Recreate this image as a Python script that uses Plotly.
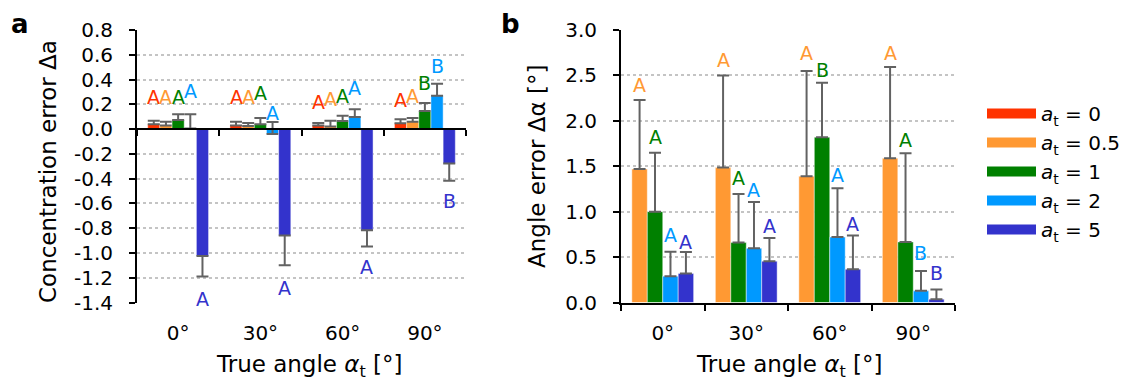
import plotly.graph_objects as go

# ---------------- data ----------------
categories = ["0°", "30°", "60°", "90°"]
series_names = ["0", "0.5", "1", "2", "5"]
series_colors = ["#FF3300", "#FF9933", "#008000", "#0099FF", "#3333CC"]

# panel a: concentration error
conc_a0 = [0.040, 0.030, 0.030, 0.048]
conc_a05 = [0.030, 0.025, 0.020, 0.060]
conc_a1 = [0.073, 0.040, 0.065, 0.146]
conc_a2 = [0.005, -0.040, 0.097, 0.270]
conc_a5 = [-1.025, -0.860, -0.817, -0.278]

conc_err_up_a0 = [0.027, 0.030, 0.020, 0.032]
conc_err_up_a05 = [0.030, 0.025, 0.047, 0.030]
conc_err_up_a1 = [0.047, 0.050, 0.043, 0.064]
conc_err_up_a2 = [0.115, 0.097, 0.063, 0.097]
conc_err_up_a5 = [0.0, 0.0, 0.0, 0.0]
conc_err_down_a0 = [0.0, 0.0, 0.0, 0.0]
conc_err_down_a05 = [0.0, 0.0, 0.0, 0.0]
conc_err_down_a1 = [0.0, 0.0, 0.0, 0.0]
conc_err_down_a2 = [0.0, 0.0, 0.0, 0.0]
conc_err_down_a5 = [0.165, 0.240, 0.130, 0.140]

conc_lbl_a0 = ["A", "A", "A", "A"]
conc_lbl_a05 = ["A", "A", "A", "A"]
conc_lbl_a1 = ["A", "A", "A", "B"]
conc_lbl_a2 = ["A", "A", "A", "B"]
conc_lbl_a5 = ["A", "A", "A", "B"]
conc_lbl_y_a0 = [0.26, 0.26, 0.215, 0.235]
conc_lbl_y_a05 = [0.26, 0.26, 0.243, 0.27]
conc_lbl_y_a1 = [0.26, 0.29, 0.267, 0.375]
conc_lbl_y_a2 = [0.31, 0.127, 0.33, 0.51]
conc_lbl_y_a5 = [-1.375, -1.28, -1.115, -0.58]

# panel b: angle error (a_t = 0 not shown)
ang_a05 = [1.47, 1.485, 1.39, 1.588]
ang_a1 = [1.00, 0.66, 1.82, 0.667]
ang_a2 = [0.29, 0.598, 0.72, 0.128]
ang_a5 = [0.32, 0.455, 0.367, 0.037]
ang_err_a05 = [0.76, 1.015, 1.16, 1.005]
ang_err_a1 = [0.65, 0.535, 0.60, 0.976]
ang_err_a2 = [0.27, 0.509, 0.538, 0.22]
ang_err_a5 = [0.235, 0.255, 0.37, 0.106]

ang_lbl_a05 = ["A", "A", "A", "A"]
ang_lbl_a1 = ["A", "A", "B", "A"]
ang_lbl_a2 = ["A", "A", "A", "B"]
ang_lbl_a5 = ["A", "A", "A", "B"]
ang_lbl_y_a05 = [2.39, 2.67, 2.75, 2.75]
ang_lbl_y_a1 = [1.82, 1.37, 2.56, 1.79]
ang_lbl_y_a2 = [0.74, 1.24, 1.40, 0.55]
ang_lbl_y_a5 = [0.67, 0.84, 0.865, 0.33]

conc_ticks = [-1.4, -1.2, -1.0, -0.8, -0.6, -0.4, -0.2, 0.0, 0.2, 0.4, 0.6, 0.8]
ang_ticks = [0.0, 0.5, 1.0, 1.5, 2.0, 2.5, 3.0]

# ---------------- layout helpers ----------------
W, H = 1133, 383
FONT = "DejaVu Sans"
BARGAP = 0.26
ERR_COLOR = "#626262"
BAR_EDGE = dict(color="rgba(255,255,255,0.45)", width=1)

def px_x(p):
    return p / W

def px_y(p):
    return 1 - p / H

xa_dom = [px_x(137), px_x(466)]
xb_dom = [px_x(621), px_x(955)]
y_dom = [px_y(302.5), px_y(30)]

conc_series = [
    (conc_a0, conc_err_up_a0, conc_err_down_a0, conc_lbl_a0, conc_lbl_y_a0),
    (conc_a05, conc_err_up_a05, conc_err_down_a05, conc_lbl_a05, conc_lbl_y_a05),
    (conc_a1, conc_err_up_a1, conc_err_down_a1, conc_lbl_a1, conc_lbl_y_a1),
    (conc_a2, conc_err_up_a2, conc_err_down_a2, conc_lbl_a2, conc_lbl_y_a2),
    (conc_a5, conc_err_up_a5, conc_err_down_a5, conc_lbl_a5, conc_lbl_y_a5),
]
ang_series = [
    (ang_a05, ang_err_a05, ang_lbl_a05, ang_lbl_y_a05),
    (ang_a1, ang_err_a1, ang_lbl_a1, ang_lbl_y_a1),
    (ang_a2, ang_err_a2, ang_lbl_a2, ang_lbl_y_a2),
    (ang_a5, ang_err_a5, ang_lbl_a5, ang_lbl_y_a5),
]

xpos = list(range(len(categories)))
fig = go.Figure()
annotations = []

def label(x, y, xref, yref, text, color, size=19):
    return dict(x=x, y=y, xref=xref, yref=yref, text=text, showarrow=False,
                xanchor="center", yanchor="middle",
                font=dict(family=FONT, size=size, color=color))

# panel a bars
n = len(conc_series)
w = (1 - BARGAP) / n
for k, (vals, up, down, lbls, lbly) in enumerate(conc_series):
    fig.add_trace(go.Bar(
        x=xpos, y=vals, marker_color=series_colors[k], marker_line=BAR_EDGE,
        error_y=dict(type="data", symmetric=False, array=up, arrayminus=down,
                     color=ERR_COLOR, thickness=2, width=6),
        xaxis="x", yaxis="y", showlegend=False, name=series_names[k]))
    for i in xpos:
        annotations.append(label(i + (k - (n - 1) / 2) * w, lbly[i], "x", "y",
                                 lbls[i], series_colors[k]))

# panel b bars
n = len(ang_series)
w = (1 - BARGAP) / n
for k, (vals, err, lbls, lbly) in enumerate(ang_series):
    c = series_colors[k + 1]
    fig.add_trace(go.Bar(
        x=xpos, y=vals, marker_color=c, marker_line=BAR_EDGE,
        error_y=dict(type="data", symmetric=False, array=err,
                     arrayminus=[0] * len(err),
                     color=ERR_COLOR, thickness=2, width=6),
        xaxis="x2", yaxis="y2", showlegend=False, name=series_names[k + 1]))
    for i in xpos:
        annotations.append(label(i + (k - (n - 1) / 2) * w, lbly[i], "x2", "y2",
                                 lbls[i], c))

# legend entries
for k, nm in enumerate(series_names):
    fig.add_trace(go.Scatter(
        x=[None], y=[None], mode="lines",
        line=dict(color=series_colors[k], width=12),
        name=f"<i>a</i><sub>t</sub> = {nm}", xaxis="x2", yaxis="y2"))

# invisible traces for the overlay (zero-line) axes
fig.add_trace(go.Scatter(x=[None], y=[None], xaxis="x3", yaxis="y", showlegend=False))
fig.add_trace(go.Scatter(x=[None], y=[None], xaxis="x4", yaxis="y2", showlegend=False))

conc_range = [-1.4, 0.8]
zero_pos = y_dom[0] + (0 - conc_range[0]) / (conc_range[1] - conc_range[0]) * (y_dom[1] - y_dom[0])
xr = [-0.5, len(categories) - 0.5]
bounds = [x - 0.5 for x in range(len(categories) + 1)]

tickfont = dict(family=FONT, size=20, color="black")

def cat_axis(dom, anchor):
    return dict(domain=dom, anchor=anchor, range=xr, tickmode="array",
                tickvals=xpos, ticktext=categories, showline=False, ticks="",
                showgrid=False, zeroline=False, tickfont=tickfont,
                ticklabelstandoff=16, automargin=False)

def line_axis(over, pos=None, anchor=None):
    d = dict(overlaying=over, range=xr, tickmode="array", tickvals=bounds,
             showticklabels=False, showline=True, linecolor="black",
             linewidth=2, ticks="outside", ticklen=6, tickwidth=2,
             tickcolor="black", showgrid=False, zeroline=False,
             automargin=False)
    if pos is not None:
        d.update(anchor="free", position=pos)
    else:
        d.update(anchor=anchor)
    return d

def val_axis(dom, anchor, rng, ticks):
    return dict(domain=dom, anchor=anchor, range=rng, tickmode="array",
                tickvals=ticks, ticktext=[f"{t:.1f}" for t in ticks],
                showline=True, linecolor="black", linewidth=2,
                ticks="outside", ticklen=6, tickwidth=2, tickcolor="black",
                showgrid=True, gridcolor="#c4c4c4", griddash="dot",
                gridwidth=2, zeroline=False, tickfont=tickfont,
                ticklabelstandoff=12, automargin=False)

annotations += [
    label(px_x(20), px_y(24), "paper", "paper", "<b>a</b>", "black", 26),
    label(px_x(510), px_y(24), "paper", "paper", "<b>b</b>", "black", 26),
    dict(label(px_x(48), px_y(172), "paper", "paper",
               "Concentration error Δa", "black", 23), textangle=-90),
    dict(label(px_x(537), px_y(167), "paper", "paper",
               "Angle error Δα [°]", "black", 23), textangle=-90),
    label(px_x(309), px_y(366), "paper", "paper",
          "True angle <i>α</i><sub>t</sub> [°]", "black", 23),
    label(px_x(789), px_y(366), "paper", "paper",
          "True angle <i>α</i><sub>t</sub> [°]", "black", 23),
]

fig.update_layout(
    width=W, height=H, margin=dict(l=0, r=0, t=0, b=0, pad=0, autoexpand=False),
    paper_bgcolor="white", plot_bgcolor="white",
    barmode="group", bargap=BARGAP, bargroupgap=0,
    font=dict(family=FONT, color="black"),
    xaxis=cat_axis(xa_dom, "y"),
    xaxis2=cat_axis(xb_dom, "y2"),
    xaxis3=line_axis("x", pos=zero_pos),
    xaxis4=line_axis("x2", anchor="y2"),
    yaxis=val_axis(y_dom, "x", conc_range, conc_ticks),
    yaxis2=val_axis(y_dom, "x2", [0, 3.0], ang_ticks),
    legend=dict(x=px_x(982), y=px_y(94), xanchor="left", yanchor="top",
                font=dict(family=FONT, size=20, color="black"),
                bgcolor="rgba(0,0,0,0)", itemwidth=49, tracegroupgap=0),
    annotations=annotations,
)
fig.write_html("out.html")
